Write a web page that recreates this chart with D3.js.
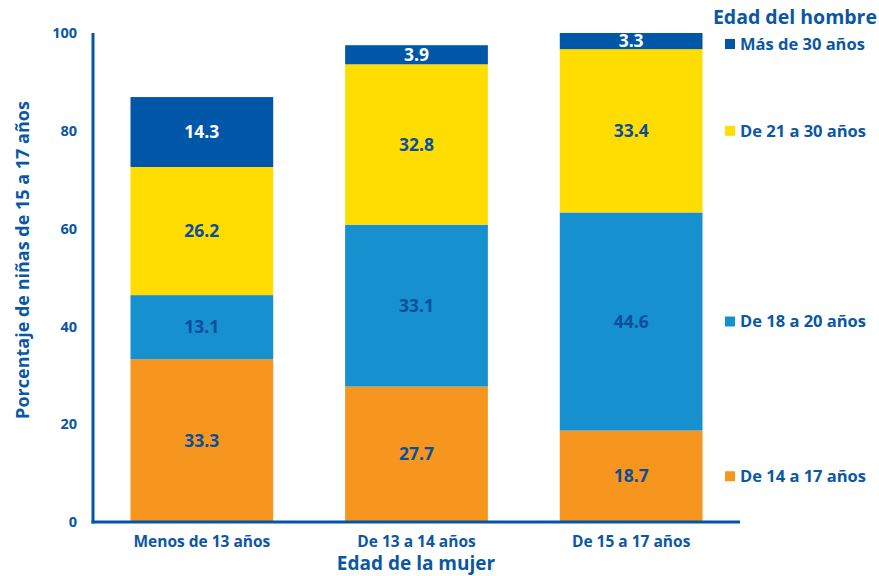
<!DOCTYPE html>
<html><head><meta charset="utf-8">
<script src="https://cdn.jsdelivr.net/npm/d3@7"></script>
<style>body{margin:0;background:#fff}svg{display:block;font-family:"Open Sans",sans-serif}</style>
</head><body><svg id="c" width="879" height="576"></svg>
<script>
const categories = ["Menos de 13 años", "De 13 a 14 años", "De 15 a 17 años"];
const seriesNames = ["De 14 a 17 años", "De 18 a 20 años", "De 21 a 30 años", "Más de 30 años"];
const s14a17 = [33.3, 27.7, 18.7];
const s18a20 = [13.1, 33.1, 44.6];
const s21a30 = [26.2, 32.8, 33.4];
const sMas30 = [14.3, 3.9, 3.3];
const yTicks = [0, 20, 40, 60, 80, 100];
const colors = ["#F7961E", "#1690CE", "#FFDD00", "#0057A8"];
const labelColors = ["#0B4F9C", "#0B4F9C", "#0B4F9C", "#ffffff"];
const textColor = "#0B57A4";

const series = [s14a17, s18a20, s21a30, sMas30];
const rows = categories.map((c, i) => {
  const r = {cat: c};
  seriesNames.forEach((s, j) => r[s] = series[j][i]);
  return r;
});
const stacked = d3.stack().keys(seriesNames)(rows);

const svg = d3.select("#c");
const x = d3.scaleBand().domain(categories).range([94, 739]).paddingInner(0.335).paddingOuter(0.17);
const y = d3.scaleLinear().domain([0, 100]).range([522, 33]);

stacked.forEach((layer, j) => {
  svg.append("g").selectAll("rect").data(layer).join("rect")
    .attr("x", d => x(d.data.cat)).attr("width", x.bandwidth())
    .attr("y", d => y(d[1])).attr("height", d => y(d[0]) - y(d[1]))
    .attr("fill", colors[j]);
  svg.append("g").selectAll("text").data(layer).join("text")
    .attr("x", d => x(d.data.cat) + x.bandwidth() / 2)
    .attr("y", d => y((d[0] + d[1]) / 2))
    .attr("dy", "0.35em").attr("text-anchor", "middle")
    .attr("font-size", 17.5).attr("font-weight", 700)
    .attr("fill", labelColors[j])
    .text(d => (d[1] - d[0]).toFixed(1));
});

// axes
const yAxis = svg.append("g").attr("transform", "translate(93,0)")
  .call(d3.axisLeft(y).tickValues(yTicks).tickSize(0).tickPadding(16));
yAxis.select(".domain").remove();
yAxis.selectAll("text").attr("font-size", 14.5).attr("font-weight", 700).attr("fill", textColor).attr("font-family", "Open Sans");
svg.append("line").attr("x1", 93).attr("x2", 93).attr("y1", y(100)).attr("y2", y(0) + 1.5)
  .attr("stroke", "#0057A8").attr("stroke-width", 3);

const xAxis = svg.append("g").attr("transform", "translate(0,522)")
  .call(d3.axisBottom(x).tickSize(0).tickPadding(14));
xAxis.select(".domain").remove();
xAxis.selectAll("text").attr("font-size", 15.5).attr("font-weight", 700).attr("fill", textColor).attr("font-family", "Open Sans");
svg.append("line").attr("x1", 91.5).attr("x2", 740).attr("y1", 522).attr("y2", 522)
  .attr("stroke", "#0057A8").attr("stroke-width", 3);

svg.append("text").attr("x", 416).attr("y", 570).attr("text-anchor", "middle")
  .attr("font-size", 19).attr("font-weight", 700).attr("fill", textColor).text("Edad de la mujer");
svg.append("text").attr("transform", "translate(29,260) rotate(-90)").attr("text-anchor", "middle")
  .attr("font-size", 18).attr("font-weight", 700).attr("fill", textColor).text("Porcentaje de niñas de 15 a 17 años");

// legend
svg.append("text").attr("x", 877).attr("y", 24).attr("text-anchor", "end")
  .attr("font-size", 19.5).attr("font-weight", 700).attr("fill", textColor).text("Edad del hombre");
const last = categories.length - 1;
stacked.forEach((layer, j) => {
  const d = layer[last];
  let cy = y((d[0] + d[1]) / 2);
  if (j === stacked.length - 1) cy = Math.max(cy, 44);
  const g = svg.append("g").attr("transform", `translate(725,${cy})`);
  g.append("rect").attr("x", 0).attr("y", -5).attr("width", 10).attr("height", 10).attr("fill", colors[j]);
  g.append("text").attr("x", 15).attr("dy", "0.35em").attr("font-size", 16.5).attr("font-weight", 700)
    .attr("fill", textColor).text(seriesNames[j]);
});
</script></body></html>
